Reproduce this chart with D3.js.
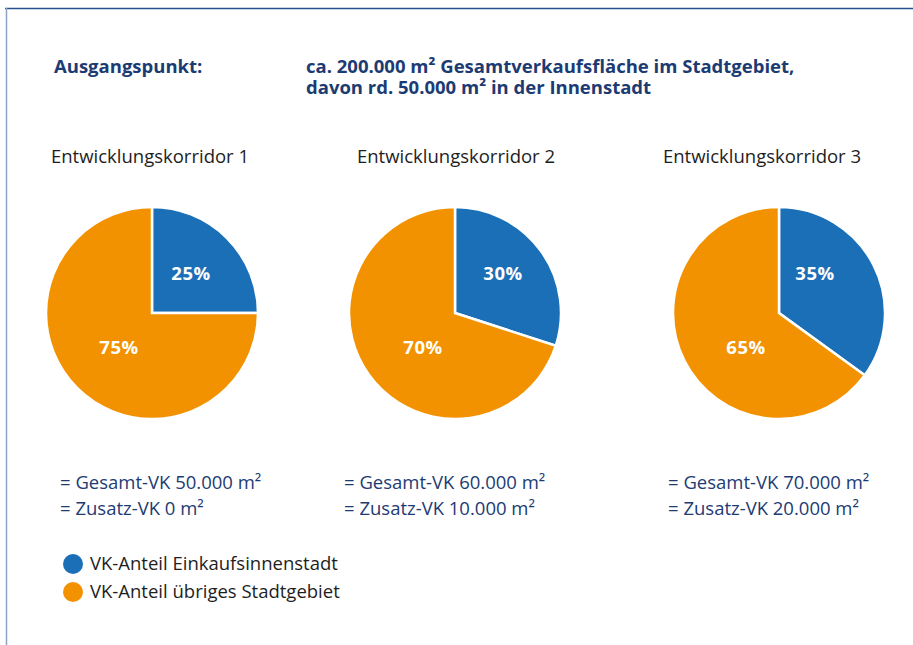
<!DOCTYPE html>
<html>
<head>
<meta charset="utf-8">
<script src="https://cdn.jsdelivr.net/npm/d3@7"></script>
<style>
  html, body { margin: 0; padding: 0; background: #fff; }
  svg { display: block; }
  text { font-family: "Open Sans", "Noto Sans", sans-serif; }
</style>
</head>
<body>
<svg id="chart" width="913" height="645"></svg>
<script>
// Scenario data: share of sales area in the inner city vs. the rest of the city
const corridors = ["Entwicklungskorridor 1", "Entwicklungskorridor 2", "Entwicklungskorridor 3"];
const innerShare = [25, 30, 35];
const otherShare = [75, 70, 65];
const totalArea = ["50.000", "60.000", "70.000"];
const extraArea = ["0", "10.000", "20.000"];
const legendLabels = ["VK-Anteil Einkaufsinnenstadt", "VK-Anteil übriges Stadtgebiet"];
const headingLines = [
  "ca. 200.000 m² Gesamtverkaufsfläche im Stadtgebiet,",
  "davon rd. 50.000 m² in der Innenstadt"
];

const BLUE = "#1b6fb7";
const ORANGE = "#f39200";
const NAVY = "#1d3b73";
const INK = "#1e1e1e";
const FS = 18.5;

const svg = d3.select("#chart");

// frame
svg.append("line").attr("x1", 5).attr("x2", 913).attr("y1", 8.5).attr("y2", 8.5)
  .attr("stroke", "#25508f").attr("stroke-width", 1.5);
svg.append("line").attr("x1", 6.5).attr("x2", 6.5).attr("y1", 8).attr("y2", 645)
  .attr("stroke", "#8ea2c4").attr("stroke-width", 1.5);

// heading
svg.append("text").attr("x", 54).attr("y", 73)
  .attr("font-size", FS).attr("font-weight", 700).attr("fill", NAVY)
  .text("Ausgangspunkt:");
svg.append("text").attr("x", 306).attr("y", 73)
  .attr("font-size", FS).attr("font-weight", 700).attr("fill", NAVY)
  .selectAll("tspan").data(headingLines).join("tspan")
  .attr("x", 306).attr("dy", (d, i) => i ? 21 : 0)
  .text(d => d);

// pies
const radius = 106;
const pieCxs = [152, 455, 779];
const titleCx = [150, 456, 762];
const noteX = [60, 344, 668];
const color = d3.scaleOrdinal().domain(["inner", "other"]).range([BLUE, ORANGE]);
const pie = d3.pie().sort(null).value(d => d.v);
const arc = d3.arc().innerRadius(0).outerRadius(radius);
// label anchor offsets relative to the pie centre
const innerLabelOff = [[39, -40], [48, -40], [36, -40]];
const otherLabelOff = [[-33, 34], [-32, 34], [-33, 34]];

corridors.forEach((name, i) => {
  svg.append("text").attr("x", titleCx[i]).attr("y", 163)
    .attr("text-anchor", "middle").attr("font-size", FS).attr("fill", INK)
    .text(name);

  const data = [{k: "inner", v: innerShare[i]}, {k: "other", v: otherShare[i]}];
  const g = svg.append("g").attr("transform", `translate(${pieCxs[i]},313)`);
  g.selectAll("path").data(pie(data)).join("path")
    .attr("d", arc).attr("fill", d => color(d.data.k))
    .attr("stroke", "#fff").attr("stroke-width", 2.5).attr("stroke-linejoin", "miter");

  const offs = [innerLabelOff[i], otherLabelOff[i]];
  g.selectAll("text.pct").data(data).join("text").attr("class", "pct")
    .attr("x", (d, j) => offs[j][0]).attr("y", (d, j) => offs[j][1] + 6.5)
    .attr("text-anchor", "middle")
    .attr("font-size", FS).attr("font-weight", 700).attr("fill", "#fff")
    .attr("letter-spacing", 0.5)
    .text(d => d.v + "%");

  svg.append("text").attr("x", noteX[i]).attr("y", 489)
    .attr("font-size", FS).attr("fill", NAVY)
    .text(`= Gesamt-VK ${totalArea[i]} m²`);
  svg.append("text").attr("x", noteX[i]).attr("y", 515)
    .attr("font-size", FS).attr("fill", NAVY)
    .text(`= Zusatz-VK ${extraArea[i]} m²`);
});

// legend
const lg = svg.append("g");
legendLabels.forEach((lab, i) => {
  const y = 564 + i * 28;
  lg.append("circle").attr("cx", 73).attr("cy", y).attr("r", 10)
    .attr("fill", color.range()[i]);
  lg.append("text").attr("x", 90).attr("y", y + 6)
    .attr("font-size", FS).attr("fill", INK).text(lab);
});
</script>
</body>
</html>
